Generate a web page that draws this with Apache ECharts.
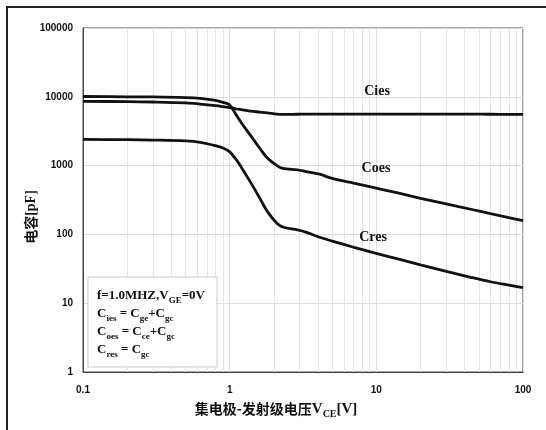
<!DOCTYPE html>
<html><head><meta charset="utf-8">
<script src="https://cdn.jsdelivr.net/npm/echarts@6/dist/echarts.min.js"></script>
<style>html,body{margin:0;padding:0;background:#fff}#c{width:546px;height:430px}</style>
</head><body><div id="c"></div>
<script>
// Collector-emitter voltage (V)
const vce  = [0.1, 0.2, 0.3, 0.5, 0.63, 0.8, 0.9, 1.0, 1.1, 1.2, 1.38, 1.6, 1.8, 2.1, 2.3, 2.9, 3.3, 4.1, 5, 7, 9, 14, 20, 30, 44, 60, 80, 100];
// Capacitances (pF)
const cies = [8600, 8500, 8400, 8150, 7850, 7450, 7200, 6950, 6700, 6500, 6200, 6000, 5850, 5620, 5550, 5580, 5600, 5600, 5600, 5600, 5600, 5600, 5600, 5600, 5600, 5580, 5560, 5550];
const coes = [10100, 10000, 9950, 9750, 9500, 8900, 8300, 7600, 5600, 4200, 2790, 1800, 1300, 1000, 910, 865, 820, 750, 650, 556, 495, 400, 335, 277, 232, 200, 175, 158];
const cres = [2400, 2380, 2350, 2280, 2180, 1950, 1800, 1580, 1250, 950, 585, 340, 218, 145, 128, 116, 108, 91, 80, 65, 56, 44, 36, 29, 23.8, 20.5, 18.3, 16.8];
const seriesNames = ['Cies', 'Coes', 'Cres'];
const xMinorGrid = [0.2,0.3,0.4,0.5,0.6,0.7,0.8,0.9,2,3,4,5,6,7,8,9,20,30,40,50,60,70,80,90];
const xRange = [0.1, 100];
const yRange = [1, 100000];

const chart = echarts.init(document.getElementById('c'), null, {renderer: 'canvas'});
const pair = arr => vce.map((v, i) => [v, arr[i]]);
const serif = '"Times New Roman", "Liberation Serif", serif';
const sans = 'Arial, "Liberation Sans", sans-serif';
const cjk = '"Noto Sans CJK SC", sans-serif';
const lineStyle = {color: '#111', width: 2.8};

function fmt(v) { return v < 1 ? (Math.round(v * 10) / 10).toFixed(1) : String(Math.round(v)); }

const option = {
  animation: false,
  backgroundColor: '#fff',
  grid: {left: 83, top: 28, right: 23, bottom: 58, show: true, borderColor: '#444', borderWidth: 1, backgroundColor: 'transparent'},
  xAxis: {
    type: 'log', logBase: 10, min: xRange[0], max: xRange[1], splitNumber: 3,
    axisLine: {show: true, lineStyle: {color: '#444', width: 1}},
    axisTick: {show: false},
    axisLabel: {color: '#111', fontFamily: sans, fontWeight: 'bold', fontSize: 10, margin: 13, formatter: fmt},
    splitLine: {show: true, lineStyle: {color: '#dedede', width: 1}}
  },
  yAxis: {
    type: 'log', logBase: 10, min: yRange[0], max: yRange[1], splitNumber: 5,
    axisLine: {show: true, lineStyle: {color: '#444', width: 1}},
    axisTick: {show: false},
    axisLabel: {color: '#111', fontFamily: sans, fontWeight: 'bold', fontSize: 10, margin: 10, formatter: fmt},
    splitLine: {show: true, lineStyle: {color: '#dedede', width: 1}}
  },
  series: [
    {
      name: 'minor', type: 'line', data: [], z: 1, silent: true,
      markLine: {
        silent: true, symbol: ['none', 'none'], z: 1, animation: false,
        label: {show: false},
        lineStyle: {color: '#e4e4e4', width: 1, type: 'solid'},
        emphasis: {disabled: true},
        data: xMinorGrid.map(v => ({xAxis: v}))
      }
    },
    {name: seriesNames[0], type: 'line', data: pair(cies), smooth: 0.35, showSymbol: false, lineStyle, z: 3},
    {name: seriesNames[1], type: 'line', data: pair(coes), smooth: 0.35, showSymbol: false, lineStyle, z: 3},
    {name: seriesNames[2], type: 'line', data: pair(cres), smooth: 0.35, showSymbol: false, lineStyle, z: 3}
  ],
  graphic: [
    {type: 'rect', shape: {x: 7, y: 7, width: 700, height: 600}, style: {fill: 'none', stroke: '#222', lineWidth: 2}, silent: true, z: 10},
    {type: 'rect', shape: {x: 88, y: 277, width: 129, height: 90}, style: {fill: '#fff', stroke: '#c8c8c8', lineWidth: 1}, silent: true, z: 10},
    {type: 'text', x: 97, y: 287, z: 11, silent: true, style: {
      text: '{m|f=1.0MHZ,V}{s|GE}{m|=0V}\n{m|C}{s|ies}{m| = C}{s|ge}{m|+C}{s|gc}\n{m|C}{s|oes}{m| = C}{s|ce}{m|+C}{s|gc}\n{m|C}{s|res}{m| = C}{s|gc}',
      rich: {
        m: {fontFamily: serif, fontWeight: 'bold', fontSize: 13, lineHeight: 18, fill: '#111'},
        s: {fontFamily: serif, fontWeight: 'bold', fontSize: 9, lineHeight: 10, verticalAlign: 'bottom', fill: '#111'}
      }
    }},
    {type: 'text', x: 377, y: 91, z: 11, silent: true, style: {text: seriesNames[0], fontFamily: serif, fontWeight: 'bold', fontSize: 14, fill: '#111', align: 'center', verticalAlign: 'middle'}},
    {type: 'text', x: 376, y: 168, z: 11, silent: true, style: {text: seriesNames[1], fontFamily: serif, fontWeight: 'bold', fontSize: 14, fill: '#111', align: 'center', verticalAlign: 'middle'}},
    {type: 'text', x: 373, y: 237, z: 11, silent: true, style: {text: seriesNames[2], fontFamily: serif, fontWeight: 'bold', fontSize: 14, fill: '#111', align: 'center', verticalAlign: 'middle'}},
    {type: 'text', x: 31, y: 217, rotation: Math.PI / 2, z: 11, silent: true, style: {
      text: '{c|电容}{l|[pF]}', align: 'center', verticalAlign: 'middle',
      rich: {
        c: {fontFamily: cjk, fontWeight: 'bold', fontSize: 14, fill: '#111'},
        l: {fontFamily: serif, fontWeight: 'bold', fontSize: 14, fill: '#111'}
      }
    }},
    {type: 'text', x: 276, y: 409, z: 11, silent: true, style: {
      text: '{c|集电极-发射级电压}{v|V}{s|CE}{v|[V]}', align: 'center', verticalAlign: 'middle',
      rich: {
        c: {fontFamily: cjk, fontWeight: 'bold', fontSize: 14, lineHeight: 20, fill: '#111'},
        v: {fontFamily: serif, fontWeight: 'bold', fontSize: 15, lineHeight: 20, fill: '#111'},
        s: {fontFamily: serif, fontWeight: 'bold', fontSize: 10, lineHeight: 11, verticalAlign: 'bottom', fill: '#111'}
      }
    }}
  ]
};
chart.setOption(option);
</script>
</body></html>
